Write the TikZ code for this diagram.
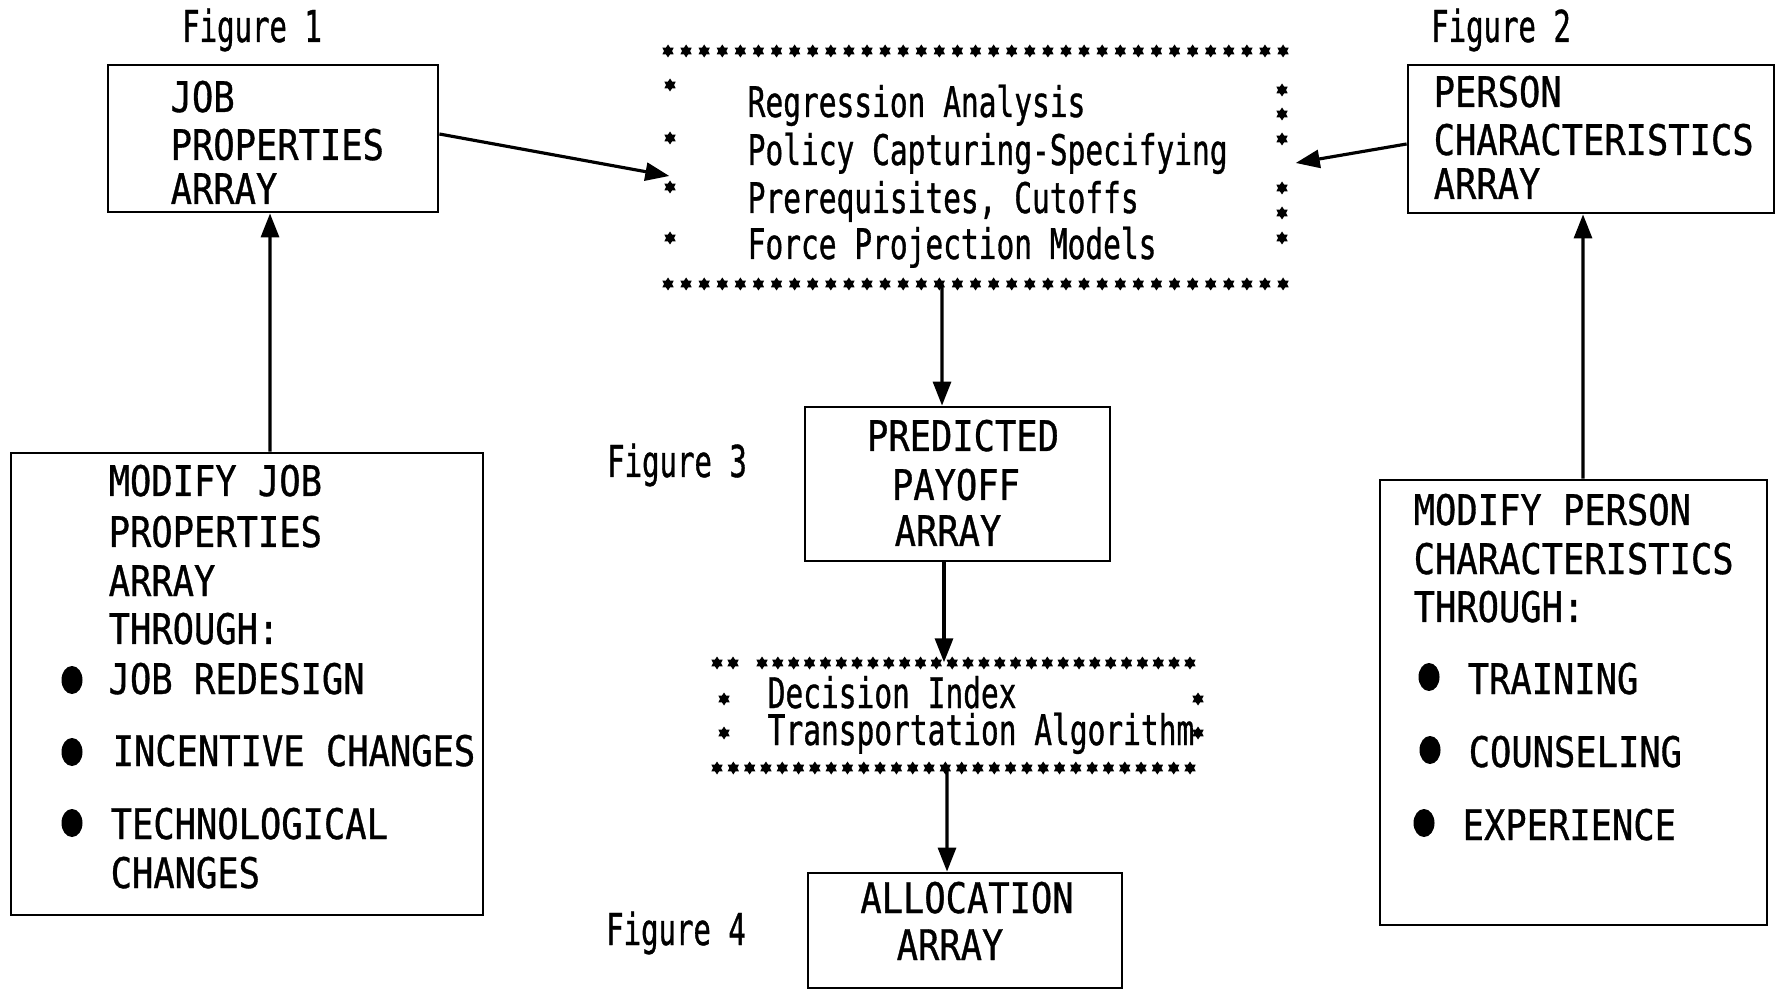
\documentclass[tikz,border=0pt]{standalone}
\usepackage{fontspec}
\setmainfont{DejaVu Sans Mono}[FakeStretch=0.84, FakeBold=0.8]
\newfontfamily\figfont{DejaVu Sans Mono}[FakeStretch=0.66, FakeBold=0.8]
\newfontfamily\lcfont{DejaVu Sans Mono}[FakeStretch=0.7, FakeBold=0.8]
\usetikzlibrary{arrows.meta}
\tikzset{
  box/.style={draw, line width=0.8pt, inner sep=0pt},
  area/.style={inner sep=0pt},
  txt/.style={inner sep=0pt, anchor=base west, font=\fontsize{12}{14}\selectfont},
  ctxt/.style={inner sep=0pt, anchor=base, font=\fontsize{12}{14}\selectfont},
  stxt/.style={inner sep=0pt, anchor=base west, font=\lcfont\fontsize{12}{14}\selectfont},
  figlbl/.style={inner sep=0pt, anchor=base, font=\figfont\fontsize{12.5}{14}\selectfont},
  arr/.style={line width=0.9pt, -{Triangle[length=2.4mm, width=1.8mm]}},
  bul/.style={x radius=1.05mm, y radius=1.4mm},
  astar/.pic={\fill (90:0.65mm) -- (120:0.4mm) -- (150:0.65mm) -- (180:0.4mm) -- (210:0.65mm) -- (240:0.4mm) -- (270:0.65mm) -- (300:0.4mm) -- (330:0.65mm) -- (0:0.4mm) -- (30:0.65mm) -- (60:0.4mm) -- cycle;}
}
\begin{document}
\begin{tikzpicture}[x=0.1mm, y=-0.1mm]
\useasboundingbox (0,0) rectangle (1780,990);

% boxes
\node[box, minimum width=33mm, minimum height=14.7mm] (job) at (273,138.5) {};
\node[box, minimum width=36.6mm, minimum height=14.8mm] (person) at (1591,139) {};
\node[area, minimum width=61.5mm, minimum height=23.3mm] (models) at (975.5,167.5) {};
\node[box, minimum width=30.5mm, minimum height=15.4mm] (pred) at (957.5,484) {};
\node[area, minimum width=48.1mm, minimum height=10.5mm] (decision) at (957.5,715.5) {};
\node[box, minimum width=31.4mm, minimum height=11.5mm] (alloc) at (965,930.5) {};
\node[box, minimum width=47.2mm, minimum height=46.2mm] (mjob) at (247,684) {};
\node[box, minimum width=38.7mm, minimum height=44.5mm] (mper) at (1573.5,702.5) {};

% figure labels
\node[figlbl] (f1) at (252,42) {Figure 1};
\node[figlbl] (f2) at (1501,42) {Figure 2};
\node[figlbl] (f3) at (677,477) {Figure 3};
\node[figlbl] (f4) at (676,945) {Figure 4};

% job properties
\node[txt] (j1) at (170,112) {JOB};
\node[txt] (j2) at (170,160) {PROPERTIES};
\node[txt] (j3) at (170,204) {ARRAY};

% person characteristics
\node[txt] (p1) at (1433,107) {PERSON};
\node[txt] (p2) at (1433,155) {CHARACTERISTICS};
\node[txt] (p3) at (1433,199) {ARRAY};

% models box
\foreach \i in {0,...,34} {
  \pic at ({668+\i*18.09},51) {astar};
  \pic at ({668+\i*18.09},284) {astar};
}
\foreach \y in {85,138,187,238} \pic at (670,\y) {astar};
\foreach \y in {90,114,139,188,213,238} \pic at (1282,\y) {astar};
\node[stxt] (m1) at (747,117) {Regression Analysis};
\node[stxt] (m2) at (747,165) {Policy Capturing-Specifying};
\node[stxt] (m3) at (747,213) {Prerequisites, Cutoffs};
\node[stxt] (m4) at (747,259) {Force Projection Models};

% predicted payoff
\node[ctxt] (pr1) at (963,451) {PREDICTED};
\node[ctxt] (pr2) at (956,500) {PAYOFF};
\node[ctxt] (pr3) at (948,546) {ARRAY};

% decision box
\pic at (717,663) {astar};
\pic at (733,663) {astar};
\foreach \i in {0,...,27} \pic at ({762+\i*15.85},663) {astar};
\foreach \i in {0,...,29} \pic at ({717+\i*16.31},768) {astar};
\foreach \y in {699,733} {
  \pic at (724,\y) {astar};
  \pic at (1198,\y) {astar};
}
\node[stxt] (d1) at (767,708) {Decision Index};
\node[stxt] (d2) at (767,745) {Transportation Algorithm};

% allocation
\node[ctxt] (a1) at (967,913) {ALLOCATION};
\node[ctxt] (a2) at (950,960) {ARRAY};

% modify job
\node[txt] (mj1) at (108,496) {MODIFY JOB};
\node[txt] (mj2) at (108,547) {PROPERTIES};
\node[txt] (mj3) at (108,596) {ARRAY};
\node[txt] (mj4) at (108,644) {THROUGH:};
\node[txt] (mj5) at (108,694) {JOB REDESIGN};
\node[txt] (mj6) at (112,766) {INCENTIVE CHANGES};
\node[txt] (mj7) at (110,839) {TECHNOLOGICAL};
\node[txt] (mj8) at (110,888) {CHANGES};
\fill (72,680) ellipse [bul];
\fill (72,752) ellipse [bul];
\fill (72,823) ellipse [bul];

% modify person
\node[txt] (mp1) at (1413,525) {MODIFY PERSON};
\node[txt] (mp2) at (1413,574) {CHARACTERISTICS};
\node[txt] (mp3) at (1413,622) {THROUGH:};
\node[txt] (mp4) at (1467,694) {TRAINING};
\node[txt] (mp5) at (1468,767) {COUNSELING};
\node[txt] (mp6) at (1462,840) {EXPERIENCE};
\fill (1429,677) ellipse [bul];
\fill (1430,750) ellipse [bul];
\fill (1424,823) ellipse [bul];

% connectors
\draw[arr] ([yshift=0.45mm]job.east) -- ([xshift=0.2mm,yshift=-0.85mm]models.west);
\draw[arr] ([yshift=-0.5mm]person.west) -- ([xshift=1.2mm,yshift=0.45mm]models.east);
\draw[arr] ([xshift=-3.35mm]models.south) -- ([xshift=-1.55mm]pred.north);
\draw[arr] ([xshift=-1.35mm]pred.south) -- ([xshift=-1.35mm]decision.north);
\draw[arr] ([xshift=-1.05mm]decision.south) -- ([xshift=-1.8mm]alloc.north);
\draw[arr] ([xshift=2.3mm]mjob.north) -- ([xshift=-0.3mm]job.south);
\draw[arr] ([xshift=0.95mm]mper.north) -- ([xshift=-0.8mm]person.south);
\end{tikzpicture}
\end{document}
